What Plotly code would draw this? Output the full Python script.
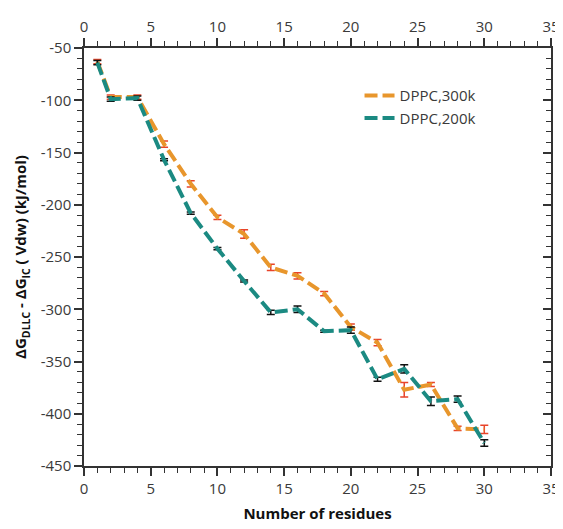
import plotly.graph_objects as go

residues = [1, 2, 4, 6, 8, 10, 12, 14, 16, 18, 20, 22, 24, 26, 28, 30]
dppc_300k = [-63, -97, -97, -142, -180, -212, -228, -260, -268, -285, -317, -332, -377, -372, -414, -415]
err_300k = [2, 2, 2, 3, 3, 2, 4, 3, 3, 2, 3, 3, 7, 2, 2, 4]
dppc_200k = [-64, -99, -98, -157, -208, -242, -273, -303, -300, -321, -320, -367, -357, -388, -386, -428]
err_200k = [2, 2, 2, 1, 1, 1, 1, 2, 3, 1, 3, 2, 4, 4, 3, 3]

series_names = ["DPPC,300k", "DPPC,200k"]
x_ticks = [0, 5, 10, 15, 20, 25, 30, 35]
y_ticks = [-50, -100, -150, -200, -250, -300, -350, -400, -450]
y_tick_text = ["-50", "-100", "-150", "-200", "-250", "-300", "-350", "-400", "-450"]

FONT = "Open Sans"
TXT = "#3a3a3a"

fig = go.Figure()
fig.add_trace(go.Scatter(
    x=residues, y=dppc_300k, name=series_names[0], mode="lines",
    line=dict(color="#e8962c", width=4, dash="13px,5px"),
    error_y=dict(type="data", array=err_300k, color="#e8442a", thickness=1.5, width=4),
))
fig.add_trace(go.Scatter(
    x=residues, y=dppc_200k, name=series_names[1], mode="lines",
    line=dict(color="#1b8a82", width=4, dash="13px,5px"),
    error_y=dict(type="data", array=err_200k, color="#111111", thickness=1.5, width=4),
))
# invisible trace to activate the mirrored axes
fig.add_trace(go.Scatter(x=[0], y=[-50], xaxis="x2", yaxis="y2", mode="markers",
                         marker=dict(opacity=0), showlegend=False, hoverinfo="skip"))

axis_common = dict(showgrid=False, zeroline=False, showline=True, linecolor="#333333", linewidth=1.5,
                   tickcolor="#333333", tickwidth=1.5, automargin=False,
                   tickfont=dict(family=FONT, size=15, color=TXT))

fig.update_layout(
    width=555, height=521,
    margin=dict(l=76, r=12, t=40, b=63),
    paper_bgcolor="white", plot_bgcolor="white",
    font=dict(family=FONT, color=TXT),
    showlegend=True,
    legend=dict(x=0.59, y=0.925, xanchor="left", yanchor="top", bgcolor="rgba(0,0,0,0)",
                font=dict(family=FONT, size=15, color=TXT), tracegroupgap=0),
    xaxis=dict(range=[0, 35], tickvals=x_ticks, ticks="outside", ticklen=8,
               minor=dict(dtick=1, ticks="outside", ticklen=5, tickcolor="#333333", tickwidth=1.2),
               title=dict(text="<b>Number of residues</b>", font=dict(family=FONT, size=15, color="#111111"), standoff=12),
               **axis_common),
    xaxis2=dict(range=[0, 35], tickvals=x_ticks, ticks="outside", ticklen=8, overlaying="x", side="top",
                anchor="y", matches="x",
                minor=dict(dtick=1, ticks="outside", ticklen=5, tickcolor="#333333", tickwidth=1.2),
                **axis_common),
    yaxis=dict(range=[-450, -50], tickvals=y_ticks, ticktext=y_tick_text, ticks="outside", ticklen=8,
               minor=dict(dtick=10, ticks="outside", ticklen=5, tickcolor="#333333", tickwidth=1.2),
               title=dict(text="<b>ΔG<sub>DLLC</sub> - ΔG<sub>IC</sub> ( Vdw) (kJ/mol)</b>",
                          font=dict(family=FONT, size=15, color="#111111"), standoff=10),
               **axis_common),
    yaxis2=dict(range=[-450, -50], tickvals=y_ticks, ticks="inside", ticklen=8, overlaying="y", side="right",
                anchor="x", matches="y", showticklabels=False,
                minor=dict(dtick=10, ticks="inside", ticklen=5, tickcolor="#333333", tickwidth=1.2),
                **axis_common),
)

fig.write_html("out.html")
